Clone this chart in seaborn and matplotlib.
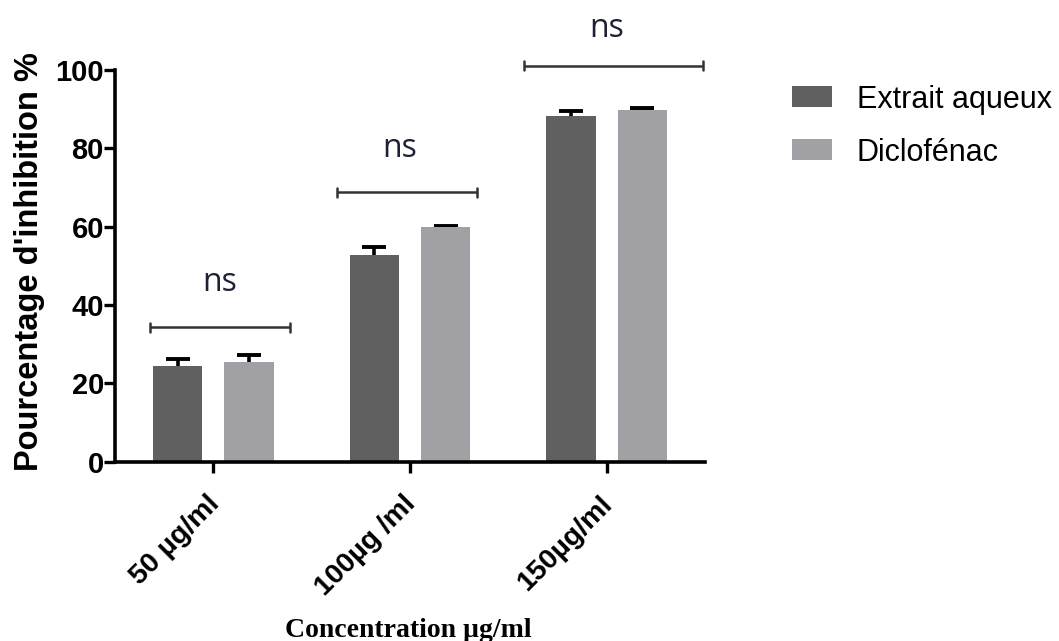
import matplotlib
matplotlib.use("Agg")
import matplotlib.pyplot as plt
import matplotlib.transforms as mtransforms
import seaborn as sns
import pandas as pd
import numpy as np

categories = ["50 µg/ml", "100µg /ml", "150µg/ml"]
series_names = ["Extrait aqueux", "Diclofénac"]
extrait_values = [24.4, 52.8, 88.3]
extrait_err = [1.8, 2.1, 1.2]
diclo_values = [25.4, 59.8, 89.9]
diclo_err = [1.8, 0.4, 0.4]
sig_heights = [34.3, 68.8, 101.1]
sig_left = [-0.32, -0.37, -0.42]
sig_right = [0.39, 0.34, 0.49]
sig_text_x = [0.03, -0.05, 0.0]
sig_text_y = [43.7, 77.8, 108.5]
sig_labels = ["ns", "ns", "ns"]
yticks = [0, 20, 40, 60, 80, 100]

df = pd.DataFrame({
    "Concentration": categories * 2,
    "Traitement": [series_names[0]] * 3 + [series_names[1]] * 3,
    "Valeur": extrait_values + diclo_values,
})

sns.set_style("ticks")
plt.rcParams["font.family"] = ["Liberation Sans", "DejaVu Sans"]
for k in ["text.color", "axes.labelcolor", "xtick.color", "ytick.color"]:
    plt.rcParams[k] = "black"

fig = plt.figure(figsize=(10.59, 6.41), dpi=100)
ax = fig.add_axes([0.1086, 0.2797, 0.5571, 0.6111])

palette = {series_names[0]: "#606060", series_names[1]: "#a1a1a5"}
sns.barplot(data=df, x="Concentration", y="Valeur", hue="Traitement",
            order=categories, hue_order=series_names, palette=palette,
            errorbar=None, width=0.725, gap=0.31, saturation=1,
            edgecolor="none", linewidth=0, ax=ax, zorder=2)

errs = [extrait_err, diclo_err]
for cont, err in zip(ax.containers, errs):
    xs = [p.get_x() + p.get_width() / 2 for p in cont.patches]
    hs = [p.get_height() for p in cont.patches]
    ax.errorbar(xs, hs, yerr=err, fmt="none",
                ecolor="black", elinewidth=2.6, capsize=8.5, capthick=2.8,
                zorder=1)

ax.set_xlim(-0.5, 2.5)
ax.set_ylim(0, 100)
ax.set_yticks(yticks)
ax.set_yticklabels([str(t) for t in yticks], fontsize=21, fontweight="bold")
ax.set_xticks(range(len(categories)))
ax.set_xticklabels(categories, rotation=45, ha="right", rotation_mode="anchor",
                   fontsize=20.5, fontweight="bold")
ax.tick_params(axis="both", width=2.4, length=8, color="black")
ax.tick_params(axis="y", pad=0)
ax.tick_params(axis="x", pad=13)
shift = mtransforms.ScaledTranslation(-7 / 100, 0, fig.dpi_scale_trans)
for lab in ax.get_xticklabels():
    lab.set_transform(lab.get_transform() + shift)
sns.despine(ax=ax)
for s in ["left", "bottom"]:
    ax.spines[s].set_linewidth(2.6)
    ax.spines[s].set_color("black")

ax.set_ylabel("Pourcentage d'inhibition %", fontsize=23.5, fontweight="bold")
ax.yaxis.set_label_coords(-0.118, 0.51)
ax.set_xlabel("Concentration µg/ml", fontsize=20, fontweight="bold",
              family=["Liberation Serif", "DejaVu Serif"])
ax.xaxis.set_label_coords(0.497, -0.399)

# significance brackets
for i, (h, x0, x1, tx, ty, lab) in enumerate(zip(sig_heights, sig_left,
                                                 sig_right, sig_text_x,
                                                 sig_text_y, sig_labels)):
    ax.plot([i + x0, i + x1], [h, h], color="#333333", lw=1.8, clip_on=False,
            solid_capstyle="butt")
    for xe in (i + x0, i + x1):
        ax.plot([xe, xe], [h - 1.1, h + 1.1], color="#333333", lw=1.8,
                clip_on=False)
    ax.text(i + tx, ty, lab, ha="center", va="baseline", fontsize=23,
            color="#1c2233", family=["Open Sans", "DejaVu Sans"])

handles, labels = ax.get_legend_handles_labels()
ax.legend(handles, labels, loc="upper left", bbox_to_anchor=(0.748, 0.868),
          bbox_transform=fig.transFigure, frameon=False, fontsize=22,
          handlelength=1.32, handleheight=0.68, handletextpad=0.8,
          labelspacing=0.75, borderaxespad=0, borderpad=0)

fig.savefig("out.png", dpi=100)
